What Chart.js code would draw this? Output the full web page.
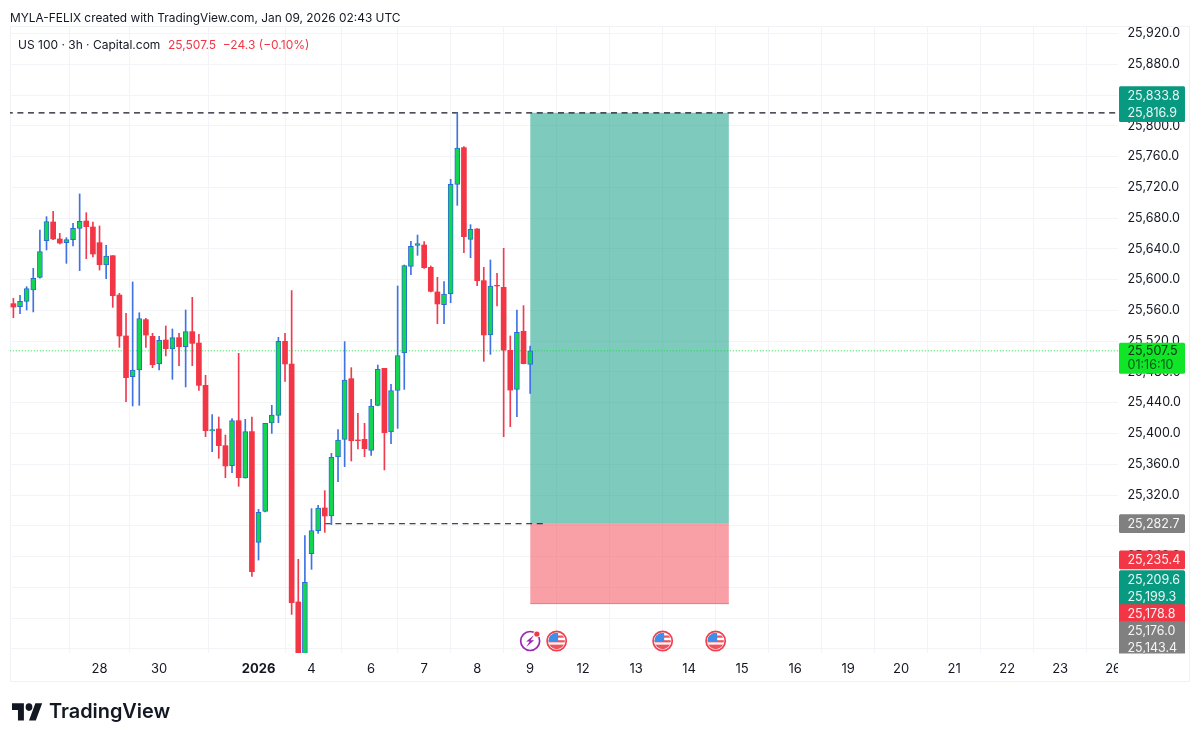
<!DOCTYPE html>
<html>
<head>
<meta charset="utf-8">
<title>US 100 3h</title>
<style>
  html, body { margin: 0; padding: 0; background: #ffffff; }
  canvas { display: block; }
</style>
<script src="https://cdn.jsdelivr.net/npm/chart.js@4/dist/chart.umd.min.js"></script>
</head>
<body>
<canvas id="chart" width="1200" height="742"></canvas>
<script>
// US 100, 3-hour candles, in bar order
const opens = [25568.8,25564.9,25571.8,25586.6,25603.0,25650.7,25675.0,25652.9,25648.1,25652.0,
  25666.7,25676.2,25668.5,25648.1,25619.0,25631.2,25580.0,25526.8,25473.9,25482.6,
  25548.0,25526.3,25490.4,25521.5,25509.9,25524.6,25512.9,25532.4,25517.6,25462.6,
  25403.3,25405.9,25384.2,25358.2,25416.7,25342.2,25402.4,25258.5,25298.8,25413.7,
  25423.6,25519.8,25490.4,25181.0,25108.0,25243.8,25273.7,25303.2,25292.8,25369.4,
  25392.4,25471.3,25391.6,25392.4,25378.1,25436.6,25484.7,25402.0,25456.1,25504.6,
  25617.3,25644.6,25645.0,25616.0,25584.0,25567.5,25581.8,25723.9,25771.6,25652.4,
  25665.9,25598.7,25528.1,25592.6,25590.0,25508.1,25457.4,25532.9,25489.9];
const highs = [25575.7,25579.6,25590.9,25614.7,25664.6,25681.9,25688.8,25660.2,25654.6,25673.2,
  25711.4,25687.1,25675.0,25669.8,25644.6,25631.2,25582.2,25556.2,25597.0,25557.0,
  25549.7,25530.2,25526.3,25539.8,25535.9,25530.2,25560.6,25577.0,25528.9,25475.6,
  25424.5,25421.5,25398.0,25419.3,25504.2,25418.4,25421.5,25301.4,25413.2,25436.6,
  25525.0,25530.2,25585.7,25236.4,25267.2,25302.3,25306.6,25325.7,25374.2,25405.0,
  25519.4,25485.6,25426.2,25413.2,25444.4,25489.0,25484.7,25463.9,25591.8,25619.0,
  25649.8,25658.0,25649.4,25617.8,25603.0,25597.4,25730.4,25816.9,25772.9,25671.5,
  25666.3,25616.0,25625.6,25608.2,25640.8,25526.8,25560.5,25566.2,25513.8];
const lows = [25550.6,25555.8,25560.6,25558.0,25602.0,25638.6,25652.0,25646.3,25621.2,25643.8,
  25611.7,25627.3,25629.4,25612.5,25601.3,25564.0,25512.0,25441.4,25435.8,25436.6,
  25512.0,25485.6,25482.6,25500.8,25470.4,25488.2,25460.5,25488.2,25456.1,25395.9,
  25376.4,25367.7,25342.6,25349.1,25331.3,25342.0,25214.3,25235.5,25298.0,25400.2,
  25414.0,25467.8,25164.9,25096.0,25098.0,25223.4,25270.2,25271.5,25281.5,25337.4,
  25356.9,25364.3,25379.9,25369.9,25371.6,25436.0,25352.6,25386.8,25406.7,25457.4,
  25606.5,25631.6,25614.7,25584.0,25542.8,25542.8,25570.1,25696.6,25635.0,25628.6,
  25592.2,25493.8,25502.9,25565.8,25395.9,25408.9,25421.9,25490.5,25452.2];
const closes = [25564.4,25571.8,25588.3,25601.7,25636.4,25675.4,25652.9,25647.6,25652.0,25666.7,
  25675.8,25668.9,25633.4,25619.5,25630.8,25579.2,25526.8,25472.6,25482.6,25549.3,
  25528.0,25489.5,25521.1,25510.3,25524.6,25512.9,25532.4,25517.2,25462.6,25403.7,
  25405.0,25384.2,25357.8,25416.7,25342.6,25402.4,25220.4,25297.5,25413.2,25424.0,
  25519.8,25490.4,25180.1,25108.0,25206.5,25273.7,25303.2,25292.8,25369.0,25391.6,
  25469.6,25390.7,25390.7,25380.3,25435.8,25483.4,25401.1,25455.7,25501.2,25618.2,
  25643.3,25646.8,25615.6,25584.8,25568.4,25581.4,25723.9,25771.1,25655.9,25665.4,
  25598.7,25528.1,25591.8,25591.8,25508.5,25456.5,25531.5,25490.8,25507.5];

// Bottom axis: bar position of each day label
const dayTickBars = [13,22,37,45,54,62,70,78,86,94,102,110,118,126,134,142,150,158,166];
const dayTickLabels = ["28","30","2026","4","6","7","8","9","12","13","14","15","16","19","20","21","22","23","26"];

// Right axis levels
const priceTicks = [25120,25160,25200,25240,25280,25320,25360,25400,25440,25480,25520,25560,25600,25640,
  25680,25720,25760,25800,25840,25880,25920];

// Long position tool
const positionStartBar = 78;
const positionEndBar = 108;
const targetPrice = 25816.9;
const entryPrice = 25282.7;
const stopPrice = 25178.8;
const lastPrice = 25507.5;
const countdown = "01:16:10";

// Price labels on the right scale; each group is stacked around its anchor level
const tagGroups = [
  { anchor: 1, tags: [["25,833.8", 25833.8, "#089981"], ["25,816.9", 25816.9, "#089981"]] },
  { anchor: 0, tags: [["25,282.7", 25282.7, "#808080"]] },
  { anchor: 0, tags: [["25,235.4", 25235.4, "#f23645"]] },
  { anchor: 0, tags: [["25,209.6", 25209.6, "#089981"], ["25,199.3", 25199.3, "#089981"],
    ["25,178.8", 25178.8, "#f23645"], ["25,176.0", 25176.0, "#808080"], ["25,143.4", 25143.4, "#808080"]] }
];

// Economic calendar markers under the candles
const boltBars = [78];
const flagBars = [82, 98, 106];

const UI_FONT = "Inter, 'Liberation Sans', sans-serif";
const INK = "#131722";
const GRID = "#f3f4f7";
const fmtPrice = v => v.toLocaleString("en-US", { minimumFractionDigits: 1, maximumFractionDigits: 1 });

const isUp = i => closes[i] >= opens[i];
const wicks = highs.map((h, i) => ({ x: i, y: [lows[i], h] }));
const bodies = opens.map((o, i) => ({ x: i, y: [Math.min(o, closes[i]), Math.max(o, closes[i])] }));

function hLine(price, from, to) {
  return [{ x: from, y: price }, { x: to, y: price }];
}

// Page furniture: frame, headers, price tags, calendar markers, logo
const furniture = {
  id: "furniture",
  beforeDraw(chart) {
    const c = chart.ctx;
    c.save();
    c.fillStyle = "#ffffff";
    c.fillRect(0, 0, chart.width, chart.height);
    c.strokeStyle = "#f0f2f6";
    c.lineWidth = 1;
    c.strokeRect(10.5, 26.5, 1179, 655);
    c.restore();
  },
  afterDraw(chart) {
    const c = chart.ctx, y = chart.scales.y, x = chart.scales.x;
    c.save();

    // the day labels stop at the price scale
    c.fillStyle = "#ffffff";
    c.fillRect(1118, 654, 71, 27);

    // tags, cut off where the price scale meets the time scale
    c.textBaseline = "middle";
    c.textAlign = "left";
    c.font = "12.5px " + UI_FONT;
    const tagH = 17;
    const tag = (top, h, fill) => {
      c.fillStyle = fill;
      c.beginPath();
      c.roundRect(1119, top, 66, h, 1.5);
      c.fill();
    };
    c.save();
    c.beginPath();
    c.rect(1100, 0, 100, 653.5);
    c.clip();
    tagGroups.forEach(g => {
      const base = y.getPixelForValue(g.tags[g.anchor][1]);
      g.tags.forEach((t, k) => {
        const cy = base + (k - g.anchor) * tagH;
        tag(cy - 9.6, tagH + 1.8, t[2]);
      });
      g.tags.forEach((t, k) => {
        const cy = base + (k - g.anchor) * tagH;
        c.fillStyle = "rgba(255,255,255,0.92)";
        c.fillText(t[0], 1127.5, cy + 0.5);
      });
    });
    c.restore();

    // last price with countdown
    const ly = y.getPixelForValue(lastPrice);
    tag(ly - 8, 31, "#10e528");
    c.fillStyle = "#0d2c12";
    c.fillText(fmtPrice(lastPrice), 1127.5, ly + 0.5);
    c.fillStyle = "#0a5a17";
    c.fillText(countdown, 1127.5, ly + 14.5);

    // calendar markers
    const my = 641;
    boltBars.forEach(b => {
      const mx = x.getPixelForValue(b);
      c.strokeStyle = "#9c27b0";
      c.lineWidth = 1.7;
      c.beginPath();
      c.arc(mx, my, 9.5, 0, Math.PI * 2);
      c.stroke();
      c.fillStyle = "#9c27b0";
      c.beginPath();
      c.moveTo(mx + 4, my - 6);
      c.lineTo(mx - 4, my + 0.5);
      c.lineTo(mx - 0.5, my + 0.5);
      c.lineTo(mx - 4, my + 6);
      c.lineTo(mx + 4, my - 0.8);
      c.lineTo(mx + 0.5, my - 0.8);
      c.closePath();
      c.fill();
      c.fillStyle = "#ffffff";
      c.beginPath();
      c.arc(mx + 6.7, my - 7, 3.6, 0, Math.PI * 2);
      c.fill();
      c.fillStyle = "#f23645";
      c.beginPath();
      c.arc(mx + 6.7, my - 7, 2.6, 0, Math.PI * 2);
      c.fill();
    });
    flagBars.forEach(b => {
      const mx = x.getPixelForValue(b);
      c.save();
      c.beginPath();
      c.arc(mx, my, 8.2, 0, Math.PI * 2);
      c.clip();
      c.fillStyle = "#ffffff";
      c.fillRect(mx - 9, my - 9, 18, 18);
      c.fillStyle = "#f0535f";
      c.fillRect(mx - 9, my - 5.5, 18, 2.2);
      c.fillRect(mx - 9, my - 0.8, 18, 2.2);
      c.fillRect(mx - 9, my + 3.6, 18, 6);
      c.fillStyle = "#3d8fe8";
      c.fillRect(mx - 9, my - 9, 10.5, 9);
      c.restore();
      c.strokeStyle = "#f0404f";
      c.lineWidth = 1.7;
      c.beginPath();
      c.arc(mx, my, 9.6, 0, Math.PI * 2);
      c.stroke();
    });

    // headers
    c.textBaseline = "middle";
    c.font = "11.9px " + UI_FONT;
    c.fillStyle = INK;
    c.fillText("MYLA-FELIX created with TradingView.com, Jan 09, 2026 02:43 UTC", 10, 18);
    c.font = "12px " + UI_FONT;
    c.fillText("US 100 \u00b7 3h \u00b7 Capital.com", 18, 45);
    c.fillStyle = "#f23645";
    c.fillText("25,507.5  \u221224.3 (\u22120.10%)", 168, 45);

    // logo mark and wordmark
    c.save();
    c.translate(12, 699.5);
    c.scale(0.85, 0.95);
    c.fillStyle = "#131722";
    c.fill(new Path2D("M14 22H7V11H0V4h14v18zM28 22h-8l7.5-18h8L28 22z"));
    c.beginPath();
    c.arc(20, 8, 4, 0, Math.PI * 2);
    c.fill();
    c.restore();
    c.fillStyle = "#131722";
    c.font = "600 19.9px " + UI_FONT;
    c.fillText("TradingView", 49, 712.5);

    c.restore();
  }
};

new Chart(document.getElementById("chart"), {
  type: "bar",
  plugins: [furniture],
  data: {
    datasets: [
      // candle bodies and wicks
      {
        label: "Bodies", data: bodies, order: 1, barThickness: 5, grouped: false,
        backgroundColor: ctx => isUp(ctx.dataIndex) ? "#12d650" : "#f23645",
        borderColor: ctx => isUp(ctx.dataIndex) ? "#2a6bd8" : "#f23645",
        borderWidth: ctx => isUp(ctx.dataIndex) ? 1 : 0,
        borderSkipped: false
      },
      {
        label: "Wicks", data: wicks, order: 2, barThickness: 1, grouped: false,
        backgroundColor: ctx => isUp(ctx.dataIndex) ? "#3f72e2" : "#f03a50",
        borderWidth: 0, borderSkipped: false
      },
      // horizontal levels
      {
        type: "line", label: "Last price", order: 3, data: hLine(lastPrice, -1, 168),
        borderColor: "#17e03c", borderWidth: 1, borderDash: [1, 2], pointRadius: 0
      },
      {
        type: "line", label: "Target level", order: 3, data: hLine(targetPrice, -1, 166.3),
        borderColor: "#131722", borderWidth: 1.3, borderDash: [6, 4.6], pointRadius: 0
      },
      {
        type: "line", label: "Entry level", order: 3, data: hLine(entryPrice, 47, 80),
        borderColor: "#131722", borderWidth: 1, borderDash: [6, 4.6], pointRadius: 0
      },
      // long position zones
      {
        type: "line", label: "Profit zone", order: 5,
        data: hLine(targetPrice, positionStartBar, positionEndBar),
        borderColor: "rgba(8,153,129,0.5)", borderWidth: 0, pointRadius: 0,
        fill: { value: entryPrice }, backgroundColor: "rgba(8,153,129,0.52)"
      },
      {
        type: "line", label: "Stop zone", order: 5,
        data: hLine(stopPrice, positionStartBar, positionEndBar),
        borderColor: "rgba(242,54,69,0.55)", borderWidth: 1, pointRadius: 0,
        fill: { value: entryPrice }, backgroundColor: "rgba(242,54,69,0.47)"
      }
    ]
  },
  options: {
    responsive: false,
    animation: false,
    events: [],
    layout: { padding: { left: 10, right: 10, top: 26, bottom: 60 } },
    plugins: { legend: { display: false }, tooltip: { enabled: false }, title: { display: false } },
    scales: {
      x: {
        type: "linear",
        offset: false,
        min: -0.513,
        max: 166.73,
        afterBuildTicks: s => { s.ticks = dayTickBars.map(v => ({ value: v })); },
        afterFit: s => { s.height = 29; },
        grid: { color: GRID, lineWidth: 1, drawTicks: false },
        border: { display: false },
        ticks: {
          autoSkip: false, maxRotation: 0, padding: 8, color: INK,
          font: ctx => ({ family: UI_FONT, size: 13, weight: ctx.tick && ctx.tick.value === 37 ? "700" : "400" }),
          callback: v => dayTickLabels[dayTickBars.indexOf(v)]
        }
      },
      y: {
        position: "right",
        min: 25114.65,
        max: 25929.75,
        afterBuildTicks: s => { s.ticks = priceTicks.map(v => ({ value: v })); },
        afterFit: s => { s.width = 72; },
        grid: { color: GRID, lineWidth: 1, drawTicks: false },
        border: { display: false },
        ticks: {
          padding: 9.5, color: INK, crossAlign: "near",
          font: { family: UI_FONT, size: 12.5 },
          callback: v => fmtPrice(v)
        }
      }
    }
  }
});
</script>
</body>
</html>
